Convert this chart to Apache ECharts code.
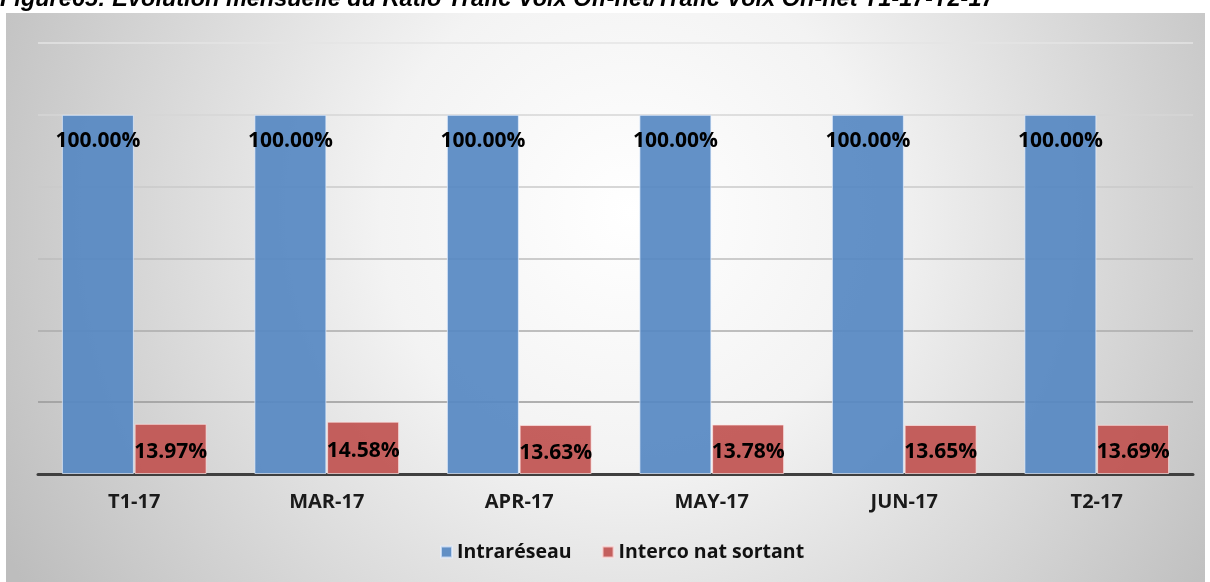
<!DOCTYPE html>
<html><head><meta charset="utf-8">
<script src="https://cdn.jsdelivr.net/npm/echarts@6/dist/echarts.min.js"></script>
<style>html,body{margin:0;padding:0;background:#fff;}#c{width:1210px;height:582px;}</style>
</head><body><div id="c"></div>
<script>
const titleText = 'Figure65: Evolution mensuelle du Ratio Trafic Voix Off-net/Trafic Voix On-net T1-17-T2-17';
const categories = ['T1-17', 'MAR-17', 'APR-17', 'MAY-17', 'JUN-17', 'T2-17'];
const seriesNames = ['Intraréseau', 'Interco nat sortant'];
const intraValues = [100.00, 100.00, 100.00, 100.00, 100.00, 100.00];
const intercoValues = [13.97, 14.58, 13.63, 13.78, 13.65, 13.69];

const FONT = 'Open Sans';
const chart = echarts.init(document.getElementById('c'), null, {renderer: 'canvas'});
chart.setOption({
  animation: false,
  backgroundColor: '#ffffff',
  graphic: [{
    type: 'rect', z: -10, silent: true,
    shape: {x: 6, y: 13, width: 1199, height: 569},
    style: {fill: {type: 'radial', x: 0.52, y: 0.35, r: 1.25,
      colorStops: [{offset: 0, color: '#ffffff'}, {offset: 0.35, color: '#f3f3f3'}, {offset: 1, color: '#bdbdbd'}]}}
  }, {
    type: 'text', left: 0, top: -12, silent: true,
    style: {text: titleText, font: 'italic bold 23.5px "Liberation Sans", Arial, sans-serif', fill: '#000'}
  }],
  grid: {left: 38, right: 17, top: 43, bottom: 108, containLabel: false},
  legend: {
    data: seriesNames, bottom: 15, left: 435, itemGap: 30,
    itemWidth: 11, itemHeight: 11, icon: 'rect',
    textStyle: {fontFamily: FONT, fontWeight: 'bold', fontSize: 19.5, color: '#111'}
  },
  xAxis: {
    type: 'category', data: categories,
    axisLine: {lineStyle: {color: '#3f3f3f', width: 3}},
    axisTick: {show: false},
    axisLabel: {fontFamily: FONT, fontWeight: 'bold', fontSize: 20, color: '#1a1a1a', margin: 18}
  },
  yAxis: {
    type: 'value', min: 0, max: 120, interval: 20,
    axisLabel: {show: false}, axisLine: {show: false}, axisTick: {show: false},
    splitLine: {lineStyle: {color: ['#8f8f8f', '#999999', '#ababab', '#bcbcbc', '#cacaca', '#d6d6d6', '#e4e4e4'], width: 1.5}}
  },
  series: [{
    name: seriesNames[0], type: 'bar', data: intraValues, z: 1,
    barWidth: 72, barGap: '1%',
    itemStyle: {color: 'rgba(86,136,194,0.92)', borderColor: 'rgba(230,240,255,0.7)', borderWidth: 1},
    label: {show: true, position: 'insideTop', distance: 16,
      formatter: p => p.value.toFixed(2) + '%',
      fontFamily: FONT, fontWeight: 'bold', fontSize: 21, color: '#000'}
  }, {
    name: seriesNames[1], type: 'bar', data: intercoValues, z: 1,
    barWidth: 72,
    itemStyle: {color: 'rgba(192,83,80,0.92)', borderColor: 'rgba(255,230,230,0.7)', borderWidth: 1},
    label: {show: true, position: 'inside',
      formatter: p => p.value.toFixed(2) + '%',
      fontFamily: FONT, fontWeight: 'bold', fontSize: 21, color: '#000', offset: [0, 3]}
  }]
});
</script></body></html>
